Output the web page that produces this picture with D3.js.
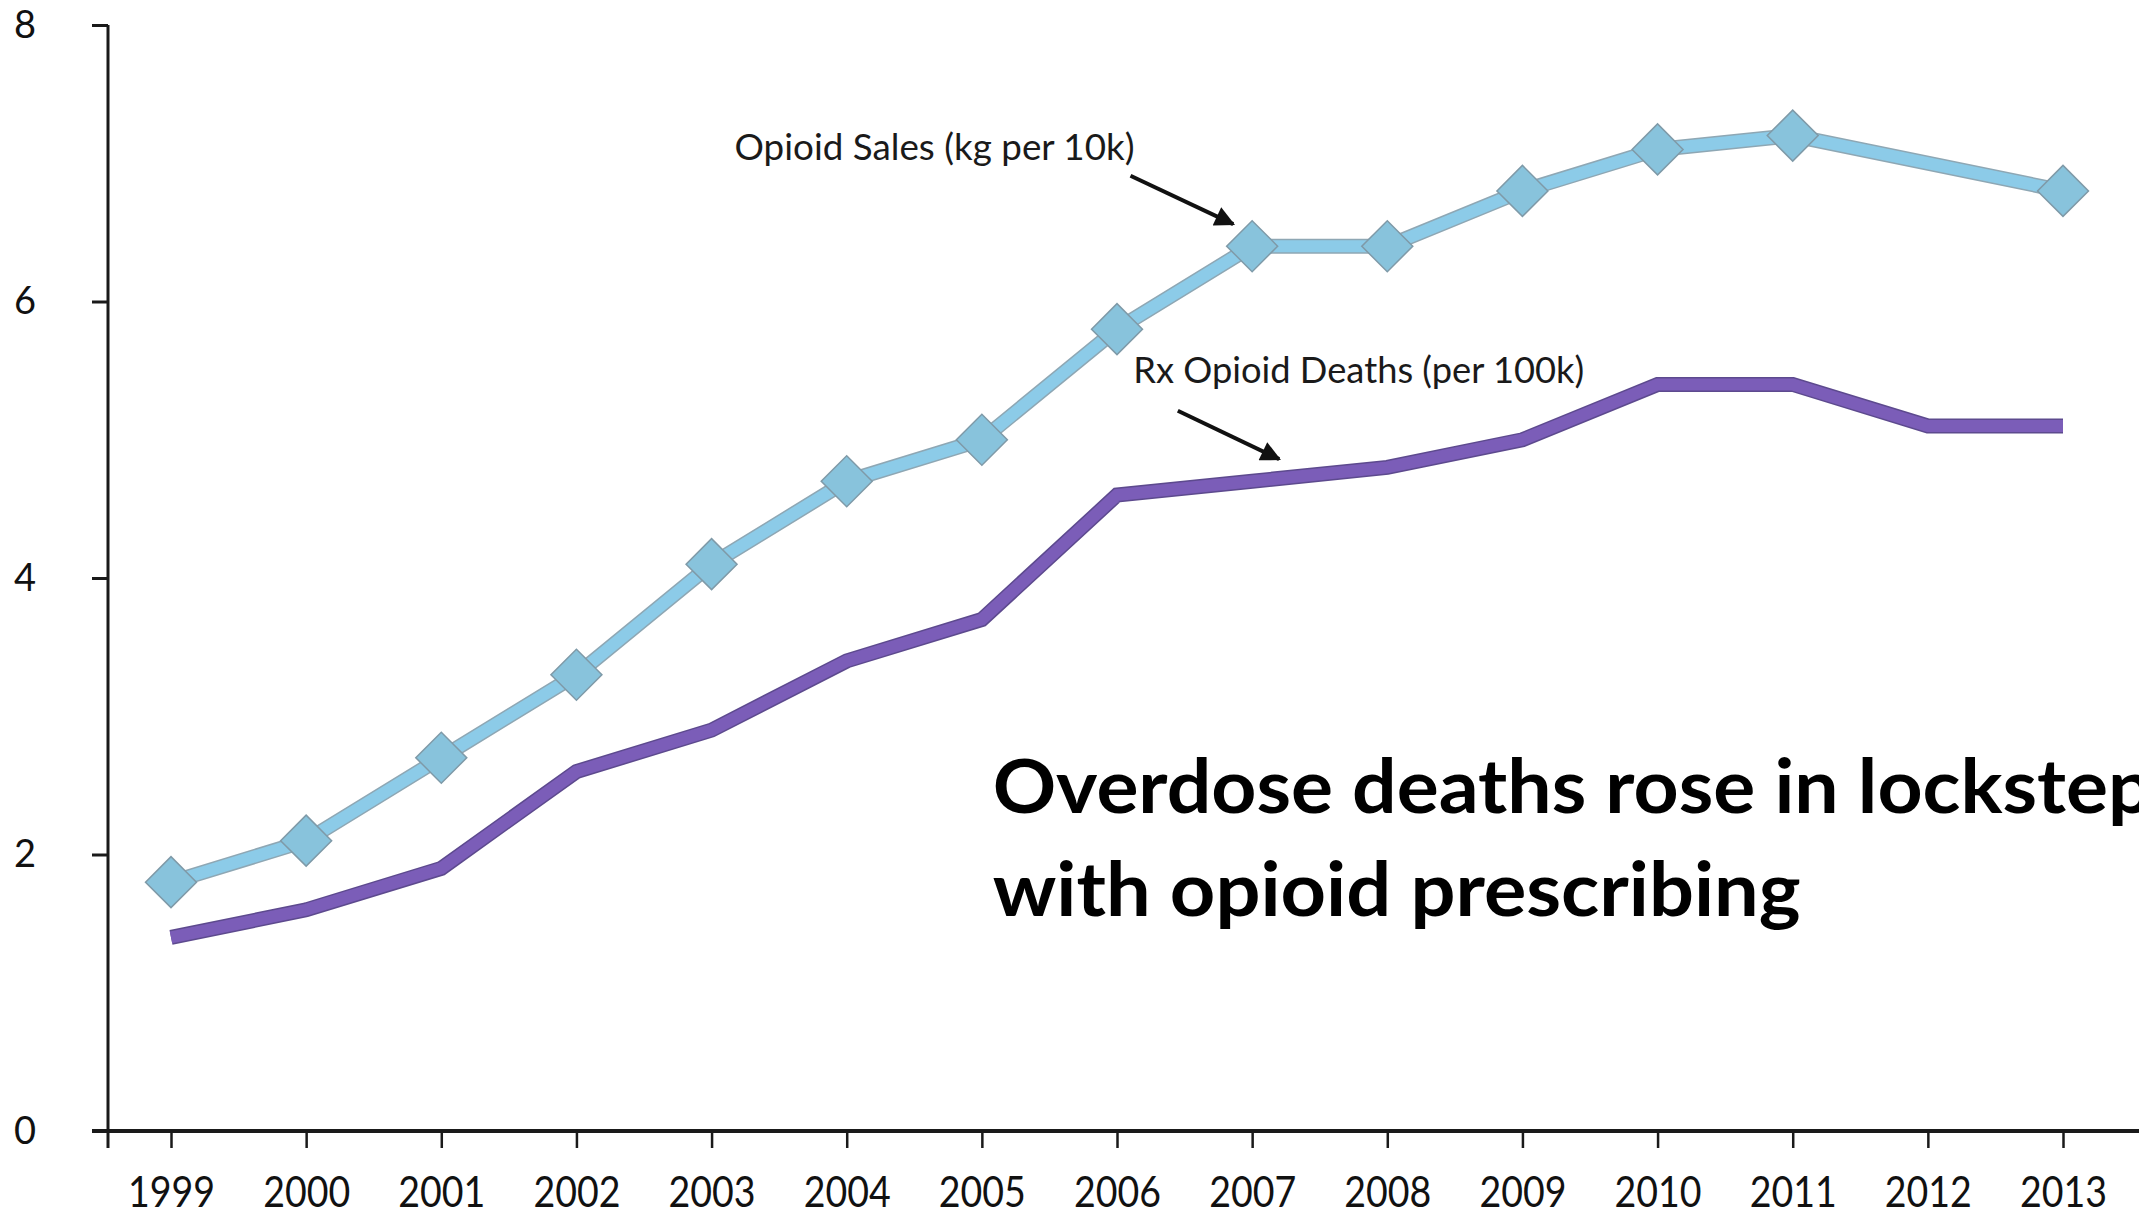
<!DOCTYPE html>
<html>
<head>
<meta charset="utf-8">
<script src="https://cdn.jsdelivr.net/npm/d3@7"></script>
<style>
  body { margin: 0; background: #fff; }
  svg { display: block; }
</style>
</head>
<body>
<svg id="chart"></svg>
<script>
// Opioid sales vs Rx opioid deaths, 1999-2013

const years = [1999, 2000, 2001, 2002, 2003, 2004, 2005, 2006, 2007, 2008, 2009, 2010, 2011, 2012, 2013];
// kg per 10k (no marker in 2012)
const sales = [1.8, 2.1, 2.7, 3.3, 4.1, 4.7, 5.0, 5.8, 6.4, 6.4, 6.8, 7.1, 7.2, null, 6.8];
// deaths per 100k
const deaths = [1.4, 1.6, 1.9, 2.6, 2.9, 3.4, 3.7, 4.6, 4.7, 4.8, 5.0, 5.4, 5.4, 5.1, 5.1];
const yTicks = [0, 2, 4, 6, 8];

const salesLabel = "Opioid Sales (kg per 10k)";
const deathsLabel = "Rx Opioid Deaths (per 100k)";
const headline = ["Overdose deaths rose in lockstep", "with opioid prescribing"];

function createChart() {
    const width = 2139, height = 1218;
    const left = 108, top = 25, bottom = 1131;

    const svg = d3.select("#chart")
        .attr("width", width)
        .attr("height", height)
        .attr("viewBox", [0, 0, width, height]);

    const x = d3.scaleLinear().domain([1999, 2013]).range([171, 2063]);
    const y = d3.scaleLinear().domain([0, 8]).range([bottom, top]);

    svg.append("defs").append("marker")
        .attr("id", "head")
        .attr("viewBox", "0 0 10 10")
        .attr("refX", 9)
        .attr("refY", 5)
        .attr("markerWidth", 5.5)
        .attr("markerHeight", 5)
        .attr("markerUnits", "strokeWidth")
        .attr("orient", "auto")
        .append("path")
        .attr("d", "M0,0 L10,5 L0,10 Z")
        .attr("fill", "#111");

    // y axis
    const yAxis = svg.append("g")
        .attr("transform", `translate(${left},0)`)
        .call(d3.axisLeft(y).tickValues(yTicks).tickSize(16).tickPadding(56).tickFormat(d3.format("d")));
    yAxis.select(".domain").remove();
    yAxis.selectAll("line").attr("stroke", "#1a1a1a").attr("stroke-width", 3);
    yAxis.selectAll("text")
        .attr("fill", "#111")
        .style("font-family", "Lato, 'Open Sans', sans-serif")
        .style("font-size", "38px");

    // x axis
    const xAxis = svg.append("g")
        .attr("transform", `translate(0,${bottom})`)
        .call(d3.axisBottom(x).tickValues(years).tickSize(17).tickPadding(28).tickFormat(d3.format("d")));
    xAxis.select(".domain").remove();
    xAxis.selectAll("line").attr("stroke", "#1a1a1a").attr("stroke-width", 2.5);
    xAxis.selectAll("text")
        .attr("fill", "#111")
        .attr("textLength", 87)
        .attr("lengthAdjust", "spacingAndGlyphs")
        .style("font-family", "Lato, 'Open Sans', sans-serif")
        .style("font-size", "43px");

    // axis lines
    svg.append("line")
        .attr("x1", left).attr("x2", left)
        .attr("y1", y(8)).attr("y2", bottom + 17)
        .attr("stroke", "#1a1a1a").attr("stroke-width", 3);
    svg.append("line")
        .attr("x1", left - 16).attr("x2", width)
        .attr("y1", bottom).attr("y2", bottom)
        .attr("stroke", "#1a1a1a").attr("stroke-width", 4);

    const deathPts = years.map((yr, i) => [yr, deaths[i]]);
    const salesPts = years.map((yr, i) => [yr, sales[i]]).filter(d => d[1] != null);

    const line = d3.line().x(d => x(d[0])).y(d => y(d[1]));

    // deaths line (purple, darker edge)
    svg.append("path").datum(deathPts)
        .attr("d", line).attr("fill", "none")
        .attr("stroke", "#5d4a8e").attr("stroke-width", 15)
        .attr("stroke-linejoin", "miter").attr("stroke-linecap", "butt");
    svg.append("path").datum(deathPts)
        .attr("d", line).attr("fill", "none")
        .attr("stroke", "#7b5db8").attr("stroke-width", 12)
        .attr("stroke-linejoin", "miter").attr("stroke-linecap", "butt");

    // sales line (light blue, grey edge)
    svg.append("path").datum(salesPts)
        .attr("d", line).attr("fill", "none")
        .attr("stroke", "#8ea7b4").attr("stroke-width", 15)
        .attr("stroke-linejoin", "miter");
    svg.append("path").datum(salesPts)
        .attr("d", line).attr("fill", "none")
        .attr("stroke", "#8ccbe8").attr("stroke-width", 12)
        .attr("stroke-linejoin", "miter");

    // diamond markers
    const diamond = d3.symbol().type(d3.symbolSquare).size(1300);
    svg.append("g")
        .selectAll("path")
        .data(salesPts)
        .join("path")
        .attr("d", diamond)
        .attr("transform", d => `translate(${x(d[0])},${y(d[1])}) rotate(45)`)
        .attr("fill", "#88c3dc")
        .attr("stroke", "#7f9aa8")
        .attr("stroke-width", 1.5);

    // annotations
    const note = svg.append("g")
        .attr("fill", "#1a1a1a")
        .style("font-family", "Lato, 'Open Sans', sans-serif")
        .style("font-size", "36px");

    note.append("text")
        .attr("x", x(2003.17)).attr("y", y(7.02))
        .attr("textLength", 400).attr("lengthAdjust", "spacingAndGlyphs")
        .text(salesLabel);
    note.append("text")
        .attr("x", x(2006.12)).attr("y", y(5.41))
        .attr("textLength", 451).attr("lengthAdjust", "spacingAndGlyphs")
        .text(deathsLabel);

    const arrows = [
        [[2006.10, 6.91], [2006.86, 6.56]],
        [[2006.45, 5.21], [2007.20, 4.86]]
    ];
    svg.append("g")
        .selectAll("line")
        .data(arrows)
        .join("line")
        .attr("x1", d => x(d[0][0])).attr("y1", d => y(d[0][1]))
        .attr("x2", d => x(d[1][0])).attr("y2", d => y(d[1][1]))
        .attr("stroke", "#111")
        .attr("stroke-width", 4)
        .attr("marker-end", "url(#head)");

    // headline
    const head = svg.append("text")
        .attr("fill", "#000")
        .style("font-family", "Lato, 'Open Sans', sans-serif")
        .style("font-weight", "bold")
        .style("font-size", "74px");
    head.append("tspan")
        .attr("x", x(2005.08)).attr("y", y(2.30))
        .attr("textLength", 1160).attr("lengthAdjust", "spacingAndGlyphs")
        .text(headline[0]);
    head.append("tspan")
        .attr("x", x(2005.08)).attr("y", y(1.555))
        .attr("textLength", 808).attr("lengthAdjust", "spacingAndGlyphs")
        .text(headline[1]);

    return svg.node();
}

createChart();
</script>
</body>
</html>
